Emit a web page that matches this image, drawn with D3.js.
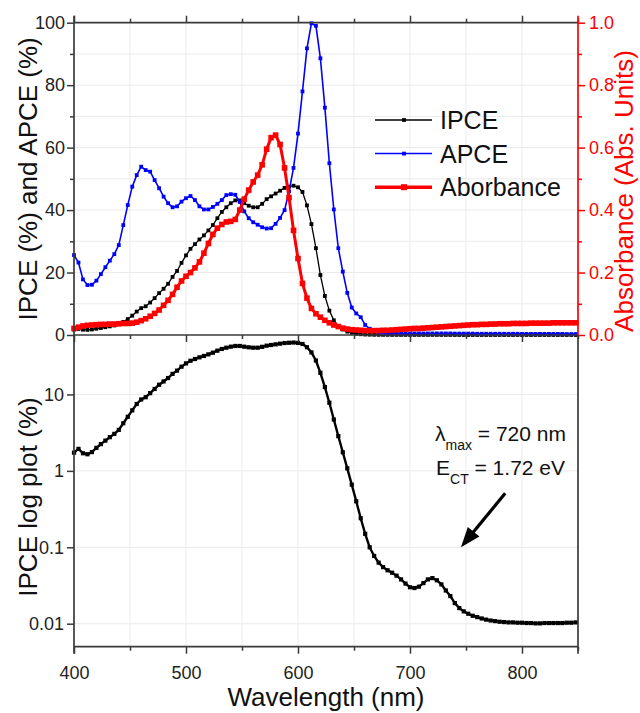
<!DOCTYPE html>
<html><head><meta charset="utf-8">
<script src="https://cdn.jsdelivr.net/npm/d3@7"></script>
<style>
body{margin:0;background:#fff}
svg{display:block}
text{font-family:"Liberation Sans",Arial,Helvetica,sans-serif}
</style>
</head><body>
<svg id="c" width="640" height="713"></svg>
<script>
// ---- data (wavelength grid 400..848 nm, 4 nm step) ----
const wavelengths = d3.range(400, 849, 4);
const ipce = [
  1.73,1.94,1.70,1.65,1.76,2.00,2.24,2.49,2.76,3.05,
  3.44,4.20,5.10,6.20,7.50,8.60,9.20,10.4,11.8,13.4,
  14.8,16.4,18.6,20.5,23.1,25.5,27.6,29.1,30.6,31.9,
  33.5,35.2,37.4,39.4,40.9,42.2,43.1,43.1,42.2,41.4,
  40.9,40.9,42.0,43.5,44.4,45.3,46.2,47.1,47.5,47.8,
  47.3,45.8,41.5,35.5,27.8,19.2,12.5,7.8,4.7,2.85,
  1.75,1.08,0.66,0.40,0.24,0.15,0.10,0.077,0.063,0.055,
  0.050,0.0465,0.0425,0.038,0.0335,0.030,0.0293,0.0305,0.034,0.038,
  0.0395,0.037,0.0327,0.0272,0.023,0.0186,0.016,0.0145,0.0135,0.0127,
  0.0122,0.0117,0.0113,0.0110,0.0108,0.0106,0.0105,0.0104,0.0104,0.0103,
  0.0103,0.0102,0.0102,0.0101,0.0101,0.0102,0.0102,0.0102,0.0102,0.0102,
  0.0103,0.0103,0.0104
];
const apce = [
  25.6,23.2,17.8,16.0,16.1,17.4,19.5,21.7,23.8,25.9,
  28.8,35.2,41.6,47.5,51.2,53.9,52.8,52.3,49.6,47.0,
  44.3,42.2,40.9,41.2,42.7,43.8,44.5,43.2,41.2,40.2,
  40.2,41.0,42.0,43.2,44.8,45.1,44.9,42.6,39.6,37.4,
  36.1,35.3,34.5,34.1,34.2,35.6,37.5,40.0,46.0,53.5,
  64.5,78.0,91.8,99.8,99.0,88.6,72.8,55.0,40.2,27.8,
  20.3,13.5,8.8,6.9,5.7,3.2,2.0,1.2,0.8,0.6,
  0.5,0.5,0.5,0.5,0.5,0.5,0.5,0.5,0.5,0.5,
  0.5,0.5,0.5,0.5,0.5,0.45,0.45,0.45,0.45,0.45,
  0.4,0.4,0.4,0.4,0.4,0.4,0.4,0.4,0.4,0.4,
  0.35,0.35,0.35,0.35,0.35,0.35,0.35,0.35,0.35,0.35,
  0.3,0.3,0.3
];
const absorbance = [
  0.021,0.025,0.029,0.031,0.032,0.033,0.034,0.034,0.035,0.035,
  0.036,0.037,0.037,0.038,0.041,0.046,0.052,0.060,0.069,0.080,
  0.095,0.111,0.130,0.153,0.173,0.188,0.200,0.215,0.234,0.262,
  0.293,0.322,0.342,0.354,0.362,0.364,0.370,0.400,0.435,0.464,
  0.490,0.512,0.545,0.595,0.632,0.640,0.610,0.535,0.440,0.335,
  0.245,0.165,0.118,0.085,0.068,0.057,0.047,0.039,0.032,0.027,
  0.022,0.019,0.017,0.016,0.015,0.014,0.014,0.014,0.014,0.015,
  0.015,0.016,0.017,0.018,0.019,0.020,0.021,0.021,0.022,0.023,
  0.024,0.025,0.026,0.027,0.028,0.029,0.030,0.031,0.032,0.033,
  0.033,0.034,0.034,0.035,0.035,0.036,0.036,0.036,0.037,0.037,
  0.037,0.037,0.038,0.038,0.038,0.038,0.038,0.039,0.039,0.039,
  0.039,0.039,0.039
];
const xMajorTicks = [400,500,600,700,800];
const xMinorTicks = [450,550,650,750,850];
const yTopMajor = [0,20,40,60,80,100];
const yTopMinor = [10,30,50,70,90];
const absMajor = [0,0.2,0.4,0.6,0.8,1.0];
const absMinor = [0.1,0.3,0.5,0.7,0.9];
const logTicks = [0.01,0.1,1,10];
const legendItems = ["IPCE","APCE","Aborbance"];

// ---- layout ----
const L = 74, R = 578, T = 22.7, M = 335, B = 646.7;
const axisColor = "#3a3a3a", gridColor = "#ebebeb", red = "#ff0000", blue = "#0000ff";
const svg = d3.select("#c");

const x = d3.scaleLinear([400, 850], [L, R]);
const yTop = d3.scaleLinear([0, 100], [M, T]);
const yAbs = d3.scaleLinear([0, 1], [M, T]);
const yLog = d3.scaleLog([0.005, 60], [B, M]);

// ---- grid ----
const grid = svg.append("g").attr("stroke", gridColor).attr("stroke-width", 1);
d3.range(450, 850, 50).forEach(v => {
  grid.append("line").attr("x1", x(v)).attr("x2", x(v)).attr("y1", T).attr("y2", M);
  grid.append("line").attr("x1", x(v)).attr("x2", x(v)).attr("y1", M).attr("y2", B);
});
d3.range(10, 100, 10).forEach(v => {
  grid.append("line").attr("x1", L).attr("x2", R).attr("y1", yTop(v)).attr("y2", yTop(v));
});
logTicks.forEach(v => {
  grid.append("line").attr("x1", L).attr("x2", R).attr("y1", yLog(v)).attr("y2", yLog(v));
});

// ---- series helper ----
function series(g, vals, yScale, color, lw, ms) {
  const pts = wavelengths.map((w, i) => [w, vals[i]]);
  g.append("path").datum(pts)
    .attr("fill", "none").attr("stroke", color).attr("stroke-width", lw)
    .attr("d", d3.line().x(d => x(d[0])).y(d => yScale(d[1])));
  g.selectAll(null).data(pts).enter().append("rect")
    .attr("x", d => x(d[0]) - ms / 2).attr("y", d => yScale(d[1]) - ms / 2)
    .attr("width", ms).attr("height", ms).attr("fill", color);
}

const topPanel = svg.append("g");
series(topPanel, ipce, yTop, "#000", 1.3, 3.8);
series(topPanel, apce, yTop, blue, 1.6, 3.8);
series(topPanel, absorbance, yAbs, red, 3, 5.6);

const logPanel = svg.append("g");
series(logPanel, ipce, yLog, "#000", 2.4, 4.2);

// ---- axes ----
function styleAxis(g, color) {
  g.select(".domain").remove();
  g.selectAll(".tick line").attr("stroke", color).attr("stroke-width", 1.5);
  g.selectAll(".tick text").attr("fill", color === red ? red : "#222")
    .style("font-size", "18px").style("font-family", '"Liberation Sans",Arial,sans-serif');
}
function addAxis(axis, tx, ty, color) {
  styleAxis(svg.append("g").attr("transform", `translate(${tx},${ty})`).call(axis), color);
}
addAxis(d3.axisTop(x).tickValues(xMajorTicks).tickSize(7).tickFormat(""), 0, T, axisColor);
addAxis(d3.axisTop(x).tickValues(xMinorTicks).tickSize(4).tickFormat(""), 0, T, axisColor);
addAxis(d3.axisBottom(x).tickValues(xMajorTicks).tickSize(7).tickFormat(""), 0, M, axisColor);
addAxis(d3.axisBottom(x).tickValues(xMinorTicks).tickSize(4).tickFormat(""), 0, M, axisColor);
addAxis(d3.axisBottom(x).tickValues(xMajorTicks).tickSize(7).tickPadding(13).tickFormat(d3.format("d")), 0, B, axisColor);
addAxis(d3.axisBottom(x).tickValues(xMinorTicks).tickSize(4).tickFormat(""), 0, B, axisColor);
addAxis(d3.axisLeft(yTop).tickValues(yTopMajor).tickSize(7).tickPadding(2).tickFormat(d3.format("d")), L, 0, axisColor);
addAxis(d3.axisLeft(yTop).tickValues(yTopMinor).tickSize(4).tickFormat(""), L, 0, axisColor);
addAxis(d3.axisRight(yAbs).tickValues(absMajor).tickSize(7).tickPadding(4).tickFormat(d3.format(".1f")), R, 0, red);
addAxis(d3.axisRight(yAbs).tickValues(absMinor).tickSize(4).tickFormat(""), R, 0, red);
addAxis(d3.axisLeft(yLog).tickValues(logTicks).tickSize(7).tickPadding(3).tickFormat(d => String(d)), L, 0, axisColor);

// frame lines
const fr = svg.append("g").attr("stroke-width", 1.7).attr("fill", "none");
fr.append("line").attr("x1", L).attr("x2", R).attr("y1", T).attr("y2", T).attr("stroke", axisColor);
fr.append("line").attr("x1", L).attr("x2", R).attr("y1", M).attr("y2", M).attr("stroke", axisColor);
fr.append("line").attr("x1", L).attr("x2", R).attr("y1", B).attr("y2", B).attr("stroke", axisColor);
fr.append("line").attr("x1", L).attr("x2", L).attr("y1", T - 7).attr("y2", B + 7).attr("stroke", axisColor);
fr.append("line").attr("x1", R).attr("x2", R).attr("y1", M).attr("y2", B + 7).attr("stroke", axisColor);
fr.append("line").attr("x1", R).attr("x2", R).attr("y1", T - 7).attr("y2", M).attr("stroke", red);

// ---- axis titles ----
svg.append("text").attr("transform", `translate(37,${(T + M) / 2}) rotate(-90)`)
  .attr("text-anchor", "middle").style("font-size", "26px").attr("fill", "#111")
  .text("IPCE (%) and APCE (%)");
svg.append("text").attr("transform", `translate(37,497) rotate(-90)`)
  .attr("text-anchor", "middle").style("font-size", "26px").attr("fill", "#111")
  .text("IPCE log plot (%)");
svg.append("text").attr("transform", `translate(633,191) rotate(-90)`)
  .attr("text-anchor", "middle").style("font-size", "26px").attr("fill", red)
  .text("Absorbance (Abs. Units)");
svg.append("text").attr("x", (L + R) / 2).attr("y", 706)
  .attr("text-anchor", "middle").style("font-size", "26px").attr("fill", "#111")
  .text("Wavelength (nm)");

// ---- legend ----
const legColors = ["#000", blue, red];
const legW = [1.5, 1.5, 3.5], legM = [3.8, 3.8, 6];
legendItems.forEach((name, i) => {
  const yy = 120 + i * 33.6;
  svg.append("line").attr("x1", 375).attr("x2", 432).attr("y1", yy).attr("y2", yy)
    .attr("stroke", legColors[i]).attr("stroke-width", legW[i]);
  svg.append("rect").attr("x", 404 - legM[i] / 2).attr("y", yy - legM[i] / 2)
    .attr("width", legM[i]).attr("height", legM[i]).attr("fill", legColors[i]);
  svg.append("text").attr("x", 440).attr("y", yy + 9).style("font-size", "25px")
    .attr("fill", "#111").text(name);
});

// ---- annotation ----
const a1 = svg.append("text").attr("x", 435).attr("y", 441).style("font-size", "21px").attr("fill", "#111");
a1.append("tspan").text("λ");
a1.append("tspan").attr("dy", 8.5).style("font-size", "14px").text("max");
a1.append("tspan").attr("dy", -8.5).text(" = 720 nm");
const a2 = svg.append("text").attr("x", 436).attr("y", 475).style("font-size", "21px").attr("fill", "#111");
a2.append("tspan").text("E");
a2.append("tspan").attr("dy", 8.5).style("font-size", "14px").text("CT");
a2.append("tspan").attr("dy", -8.5).text(" = 1.72 eV");

// arrow
const tail = [x(785), yLog(0.51)], tip = [x(745.5), yLog(0.1)];
const adx = tip[0] - tail[0], ady = tip[1] - tail[1], alen = Math.hypot(adx, ady);
const ux = adx / alen, uy = ady / alen, hl = 20, hw = 7.5;
const bx = tip[0] - hl * ux, by = tip[1] - hl * uy;
svg.append("line").attr("x1", tail[0]).attr("y1", tail[1]).attr("x2", bx + 2 * ux).attr("y2", by + 2 * uy)
  .attr("stroke", "#000").attr("stroke-width", 3.2);
svg.append("polygon").attr("fill", "#000")
  .attr("points", [[tip[0], tip[1]], [bx - hw * uy, by + hw * ux], [bx + hw * uy, by - hw * ux]].map(p => p.join(",")).join(" "));
</script>
</body></html>
